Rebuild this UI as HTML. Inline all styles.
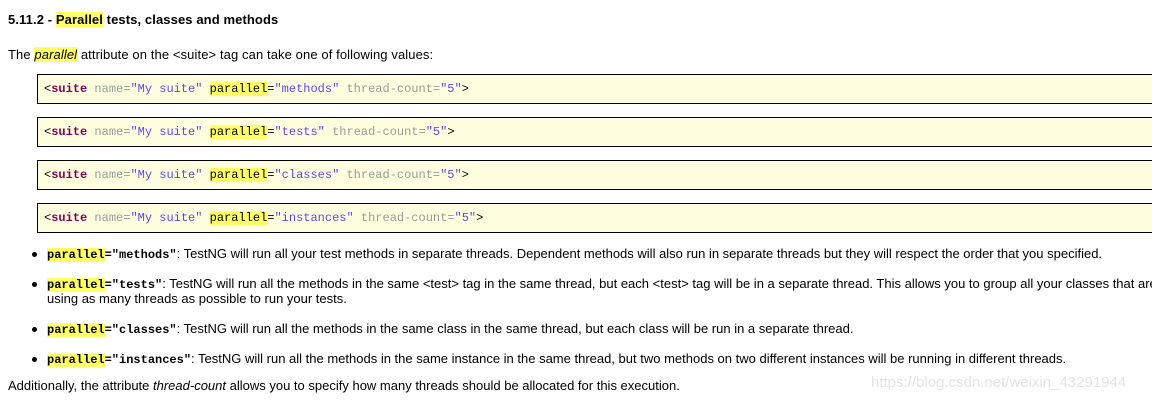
<!DOCTYPE html>
<html><head><meta charset="utf-8"><style>
body{margin:0;width:1152px;height:401px;overflow:hidden;background:#fff;font-family:"Liberation Sans",sans-serif;font-size:13px;color:#000;position:relative}
#w{position:absolute;left:0;top:0;width:1152px;height:401px;overflow:hidden}
.a{position:absolute;white-space:nowrap;line-height:15px;letter-spacing:0.1px}
.b{letter-spacing:0}
.hl{background:#ffff66}
.box{position:absolute;left:37px;width:1120px;height:28px;border:1px solid #000;background:#ffffe0;}
.box span.c{position:absolute;left:6px;top:7px;font-family:"Liberation Mono",monospace;font-size:12px;line-height:14px;white-space:nowrap;letter-spacing:0}
.t{color:#7f0055;font-weight:bold}.n{color:#999}.v{color:#2a00ff;opacity:.75}
.m{font-family:"Liberation Mono",monospace;font-weight:bold;font-size:12px;letter-spacing:0}
.dot{position:absolute;left:32px;width:5px;height:5px;border-radius:50%;background:#000}
</style></head><body><div id="w">
<div class="a" style="left:8px;top:12px;font-weight:bold">5.11.2 - <span class="hl">Parallel</span> tests, classes and methods</div>
<div class="a" style="left:8px;top:47px">The <i class="hl">parallel</i> attribute on the &lt;suite&gt; tag can take one of following values:</div>
<div class="box" style="top:74px"><span class="c">&lt;<span class="t">suite</span> <span class="n">name=</span><span class="v">"My suite"</span> <span class="hl">parallel</span>=<span class="v">"methods"</span> <span class="n">thread-count=</span><span class="v">"5"</span>&gt;</span></div>
<div class="box" style="top:117px"><span class="c">&lt;<span class="t">suite</span> <span class="n">name=</span><span class="v">"My suite"</span> <span class="hl">parallel</span>=<span class="v">"tests"</span> <span class="n">thread-count=</span><span class="v">"5"</span>&gt;</span></div>
<div class="box" style="top:160px"><span class="c">&lt;<span class="t">suite</span> <span class="n">name=</span><span class="v">"My suite"</span> <span class="hl">parallel</span>=<span class="v">"classes"</span> <span class="n">thread-count=</span><span class="v">"5"</span>&gt;</span></div>
<div class="box" style="top:203px"><span class="c">&lt;<span class="t">suite</span> <span class="n">name=</span><span class="v">"My suite"</span> <span class="hl">parallel</span>=<span class="v">"instances"</span> <span class="n">thread-count=</span><span class="v">"5"</span>&gt;</span></div>

<div class="dot" style="top:252px"></div>
<div class="a b" style="left:47px;top:246px"><span class="m"><span class="hl">parallel</span>="methods"</span>: TestNG will run all your test methods in separate threads. Dependent methods will also run in separate threads but they will respect the order that you specified.</div>
<div class="dot" style="top:282px"></div>
<div class="a b" style="left:47px;top:276px"><span class="m"><span class="hl">parallel</span>="tests"</span>: TestNG will run all the methods in the same &lt;test&gt; tag in the same thread, but each &lt;test&gt; tag will be in a separate thread. This allows you to group all your classes that are</div>
<div class="a b" style="left:47px;top:291px">using as many threads as possible to run your tests.</div>
<div class="dot" style="top:327px"></div>
<div class="a b" style="left:47px;top:321px"><span class="m"><span class="hl">parallel</span>="classes"</span>: TestNG will run all the methods in the same class in the same thread, but each class will be run in a separate thread.</div>
<div class="dot" style="top:357px"></div>
<div class="a b" style="left:47px;top:351px"><span class="m"><span class="hl">parallel</span>="instances"</span>: TestNG will run all the methods in the same instance in the same thread, but two methods on two different instances will be running in different threads.</div>
<div class="a b" style="left:8px;top:378px">Additionally, the attribute <i>thread-count</i> allows you to specify how many threads should be allocated for this execution.</div>
<div class="a b" style="left:871px;top:375px;font-size:15px;color:#e4e4e4">https://blog.csdn.net/weixin_43291944</div>
</div></body></html>
